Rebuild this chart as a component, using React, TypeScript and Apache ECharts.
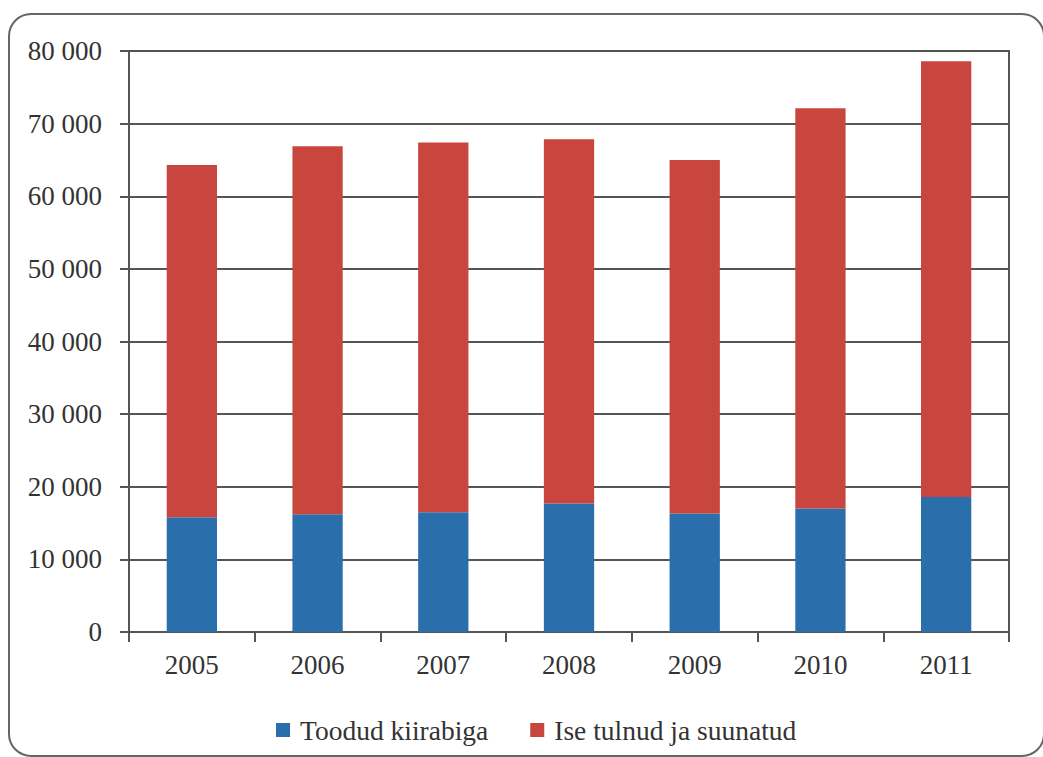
import React, { useEffect, useRef } from "react";
import * as echarts from "echarts";

const categories = ["2005", "2006", "2007", "2008", "2009", "2010", "2011"];
const seriesNames = ["Toodud kiirabiga", "Ise tulnud ja suunatud"];
const toodudKiirabiga = [15800, 16200, 16500, 17700, 16300, 17000, 18600];
const iseTulnud = [48500, 50700, 50900, 50150, 48700, 55100, 60000];

const FONT = "Liberation Serif, Times New Roman, serif";

function fmt(v: number): string {
  return String(v).replace(/\B(?=(\d{3})+(?!\d))/g, " ");
}

export default function App() {
  const ref = useRef<HTMLDivElement>(null);
  useEffect(() => {
    if (!ref.current) return;
    const chart = echarts.init(ref.current, undefined, { renderer: "svg" });
    chart.setOption({
      animation: false,
      backgroundColor: "#ffffff",
      textStyle: { fontFamily: FONT },
      graphic: [
        {
          type: "rect",
          shape: { x: 9, y: 14, width: 1035, height: 742, r: 22 },
          style: { fill: "none", stroke: "#666666", lineWidth: 2 },
          silent: true,
        },
      ],
      grid: {
        left: 129,
        right: 34,
        top: 51,
        bottom: 125,
        show: true,
        borderColor: "#555555",
        borderWidth: 2,
        containLabel: false,
      },
      legend: {
        left: 271,
        top: 711,
        itemWidth: 14,
        itemHeight: 14,
        itemGap: 42,
        icon: "rect",
        textStyle: { fontFamily: FONT, fontSize: 27.5, color: "#333333", padding: [0, 0, 0, 5] },
        data: seriesNames,
      },
      xAxis: {
        type: "category",
        data: categories,
        boundaryGap: true,
        axisLine: { lineStyle: { color: "#555555", width: 2 } },
        axisTick: { show: true, length: 10, alignWithLabel: false, lineStyle: { color: "#555555", width: 2 } },
        axisLabel: { fontFamily: FONT, fontSize: 27, color: "#333333", margin: 19 },
      },
      yAxis: {
        type: "value",
        min: 0,
        max: 80000,
        interval: 10000,
        axisLine: { show: true, lineStyle: { color: "#555555", width: 2 } },
        axisTick: { show: true, length: 9, lineStyle: { color: "#555555", width: 2 } },
        splitLine: { show: true, lineStyle: { color: "#555555", width: 2 } },
        axisLabel: {
          fontFamily: FONT,
          fontSize: 27,
          color: "#333333",
          margin: 27,
          formatter: (v: number) => fmt(v),
        },
      },
      series: [
        {
          name: seriesNames[0],
          type: "bar",
          stack: "total",
          barWidth: "40%",
          itemStyle: { color: "#2a6fab" },
          data: toodudKiirabiga,
        },
        {
          name: seriesNames[1],
          type: "bar",
          stack: "total",
          barWidth: "40%",
          itemStyle: { color: "#c8463d" },
          data: iseTulnud,
        },
      ],
    });
    return () => chart.dispose();
  }, []);
  return (
    <div
      ref={ref}
      style={{ position: "fixed", left: 0, top: 0, width: 1043, height: 757 }}
    />
  );
}
